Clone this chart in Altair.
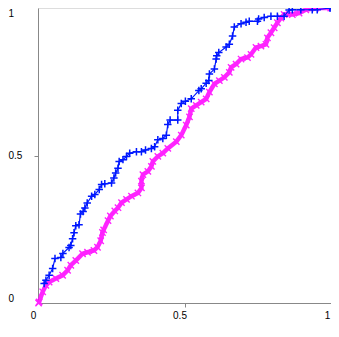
import altair as alt
import pandas as pd

# Blue series (false-positive rate, true-positive rate)
blue_x = [0.021, 0.027, 0.038, 0.050, 0.058, 0.078, 0.085, 0.106, 0.112, 0.118, 0.123, 0.129,
          0.140, 0.145, 0.154, 0.160, 0.168, 0.183, 0.194, 0.209, 0.217, 0.228, 0.251, 0.259,
          0.265, 0.273, 0.277, 0.290, 0.302, 0.313, 0.336, 0.353, 0.367, 0.387, 0.398, 0.409,
          0.426, 0.438, 0.443, 0.451, 0.477, 0.477, 0.489, 0.503, 0.523, 0.549, 0.557, 0.574,
          0.583, 0.585, 0.602, 0.608, 0.610, 0.617, 0.642, 0.653, 0.664, 0.670, 0.693, 0.710,
          0.721, 0.749, 0.753, 0.772, 0.795, 0.817, 0.840, 0.857, 0.868, 0.897, 0.936, 0.953,
          0.996, 1.000]
blue_y = [0.066, 0.077, 0.094, 0.117, 0.151, 0.154, 0.168, 0.188, 0.195, 0.218, 0.238, 0.262,
          0.265, 0.302, 0.310, 0.322, 0.339, 0.362, 0.368, 0.385, 0.402, 0.404, 0.407, 0.424,
          0.441, 0.457, 0.480, 0.486, 0.497, 0.508, 0.513, 0.513, 0.519, 0.524, 0.530, 0.553,
          0.558, 0.569, 0.605, 0.620, 0.620, 0.653, 0.676, 0.684, 0.692, 0.720, 0.726, 0.745,
          0.754, 0.776, 0.793, 0.827, 0.838, 0.849, 0.868, 0.877, 0.905, 0.936, 0.947, 0.952,
          0.955, 0.955, 0.963, 0.968, 0.972, 0.972, 0.972, 0.993, 0.994, 0.994, 0.994, 0.994,
          1.000, 1.000]

# Magenta series
mag_x = [0.002, 0.004, 0.016, 0.027, 0.038, 0.061, 0.084, 0.101, 0.112, 0.129, 0.152, 0.169,
         0.191, 0.203, 0.214, 0.220, 0.224, 0.239, 0.247, 0.262, 0.273, 0.285, 0.302, 0.319,
         0.341, 0.353, 0.353, 0.358, 0.375, 0.387, 0.392, 0.409, 0.426, 0.443, 0.472, 0.489,
         0.506, 0.517, 0.523, 0.540, 0.557, 0.574, 0.585, 0.602, 0.619, 0.636, 0.653, 0.659,
         0.676, 0.693, 0.715, 0.727, 0.744, 0.761, 0.778, 0.783, 0.795, 0.806, 0.817, 0.829,
         0.840, 0.868, 0.891, 0.914, 0.948, 0.999]
mag_y = [0.000, 0.004, 0.038, 0.060, 0.071, 0.083, 0.094, 0.111, 0.128, 0.144, 0.167, 0.172,
         0.178, 0.189, 0.211, 0.239, 0.248, 0.279, 0.295, 0.312, 0.323, 0.340, 0.351, 0.362,
         0.373, 0.390, 0.413, 0.435, 0.446, 0.463, 0.480, 0.497, 0.508, 0.524, 0.547, 0.569,
         0.603, 0.631, 0.659, 0.670, 0.681, 0.692, 0.715, 0.743, 0.754, 0.765, 0.782, 0.799,
         0.810, 0.827, 0.832, 0.843, 0.866, 0.871, 0.877, 0.899, 0.916, 0.933, 0.950, 0.966,
         0.978, 0.978, 0.983, 0.994, 1.000, 1.000]

tick_values = [0, 0.5, 1]

blue = pd.DataFrame({"x": blue_x, "y": blue_y, "i": range(len(blue_x))})
mag = pd.DataFrame({"x": mag_x, "y": mag_y, "i": range(len(mag_x))})

FONT = "DejaVu Sans Mono"
tick_cond = {"condition": {"test": "datum.value == 0.5", "value": 1}, "value": 0}

xenc = alt.X("x:Q", scale=alt.Scale(domain=[0, 1], nice=False, zero=False),
             axis=alt.Axis(values=tick_values, format="~g", title=None, grid=False,
                           tickSize=4, labelPadding=3, labelFlush=False,
                           tickOpacity=tick_cond,
                           labelOffset={"condition": {"test": "datum.value < 0.9", "value": -5},
                                        "value": -4}))
yenc = alt.Y("y:Q", scale=alt.Scale(domain=[0, 1], nice=False, zero=False),
             axis=alt.Axis(values=tick_values, format="~g", title=None, grid=False,
                           tickSize=4, labelPadding=26, labelAlign="left",
                           labelFlush=True, labelFlushOffset=0,
                           tickOpacity=tick_cond))

plus = "M-1,0L1,0M0,-1L0,1"
cross = "M-1,-1L1,1M-1,1L1,-1"

mag_line = alt.Chart(mag).mark_line(color="#ff00ff", strokeWidth=4.5, opacity=0.85).encode(
    x=xenc, y=yenc, order="i:Q")
mag_pts = alt.Chart(mag).mark_point(shape=cross, size=40, color="#ff22ff", strokeWidth=1.4,
                                    filled=False, opacity=1).encode(x=xenc, y=yenc)
blue_line = alt.Chart(blue).mark_line(color="#0018ff", strokeWidth=1.2).encode(
    x=xenc, y=yenc, order="i:Q")
blue_pts = alt.Chart(blue).mark_point(shape=plus, size=56, color="#0018ff", strokeWidth=1.5,
                                      filled=False, opacity=1).encode(x=xenc, y=yenc)

chart = alt.layer(mag_line, mag_pts, blue_line, blue_pts).properties(
    width=293, height=295,
    autosize=alt.AutoSizeParams(type="none"),
    padding={"left": 30, "top": 0, "right": 0, "bottom": 26},
).configure_view(stroke=None).configure_axis(
    domainColor="black", domainWidth=1, tickColor="black", tickWidth=1,
    labelColor="black", labelFont=FONT, labelFontSize=12,
).configure(background="white")

chart.save("out.html", embed_options={"renderer": "svg", "actions": False})
